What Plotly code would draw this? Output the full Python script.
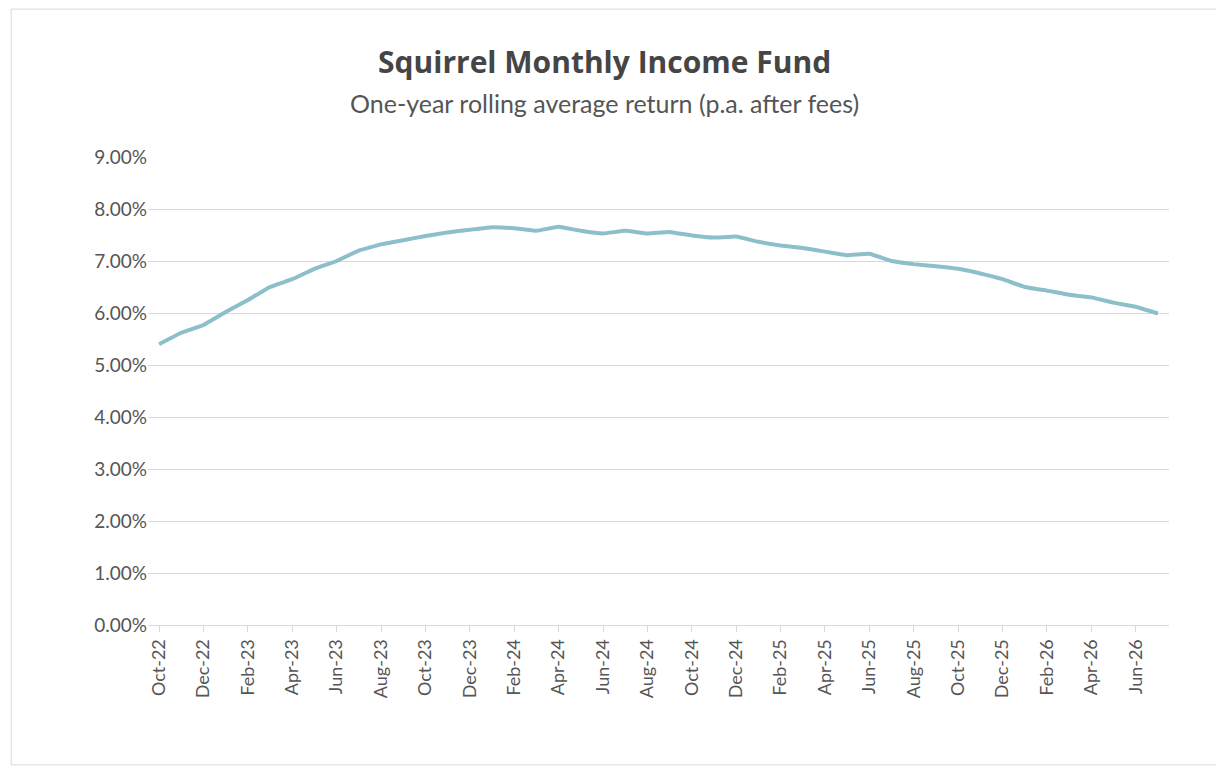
import plotly.graph_objects as go

months = ["Oct-22","Nov-22","Dec-22","Jan-23","Feb-23","Mar-23","Apr-23","May-23","Jun-23","Jul-23","Aug-23","Sep-23",
          "Oct-23","Nov-23","Dec-23","Jan-24","Feb-24","Mar-24","Apr-24","May-24","Jun-24","Jul-24","Aug-24","Sep-24",
          "Oct-24","Nov-24","Dec-24","Jan-25","Feb-25","Mar-25","Apr-25","May-25","Jun-25","Jul-25","Aug-25","Sep-25",
          "Oct-25","Nov-25","Dec-25","Jan-26","Feb-26","Mar-26","Apr-26","May-26","Jun-26","Jul-26"]
returns = [5.40,5.62,5.77,6.02,6.25,6.50,6.65,6.85,7.00,7.20,7.32,7.40,
           7.48,7.55,7.60,7.65,7.63,7.58,7.66,7.58,7.53,7.58,7.53,7.56,
           7.49,7.45,7.47,7.37,7.30,7.25,7.18,7.11,7.14,7.00,6.94,6.90,
           6.85,6.76,6.65,6.50,6.43,6.35,6.30,6.20,6.12,5.99]
tick_labels = months[::2]
y_ticks = [0,1,2,3,4,5,6,7,8,9]

fig = go.Figure(go.Scatter(x=months, y=[v/100 for v in returns], mode="lines",
                           line=dict(color="#8DBFCA", width=4, shape="spline", smoothing=0.3)))
fig.update_layout(
    width=1224, height=772, paper_bgcolor="white", plot_bgcolor="white",
    margin=dict(l=140, r=63, t=149, b=155),
    font=dict(family="Lato, sans-serif", color="#555555", size=19),
    showlegend=False,
    annotations=[
        dict(text="<b>Squirrel Monthly Income Fund</b>", xref="paper", yref="paper", x=0.447, y=1.203,
             showarrow=False, xanchor="center", yanchor="middle",
             font=dict(family="Open Sans, sans-serif", size=30, color="#454545")),
        dict(text="One-year rolling average return (p.a. after fees)", xref="paper", yref="paper", x=0.447, y=1.115,
             showarrow=False, xanchor="center", yanchor="middle",
             font=dict(family="Lato, sans-serif", size=25, color="#555555")),
    ],
    shapes=[dict(type="rect", xref="paper", yref="paper", x0=-0.134, x1=1.048, y0=-0.299, y1=1.316,
                 line=dict(color="#D9D9D9", width=1))],
)
fig.update_xaxes(type="category", tickvals=tick_labels, ticktext=tick_labels, tickangle=-90,
                 showgrid=False, showline=True, linecolor="#D9D9D9", ticks="outside",
                 tickcolor="#D9D9D9", ticklen=6, tickfont=dict(size=18), range=[-0.5, 45.5])
fig.update_yaxes(range=[0, 0.09], tickvals=[v/100 for v in y_ticks], tickformat=".2%",
                 showgrid=True, gridcolor="#D9D9D9", zeroline=False, tickfont=dict(size=19), ticksuffix=" ")
fig.write_html("out.html")
